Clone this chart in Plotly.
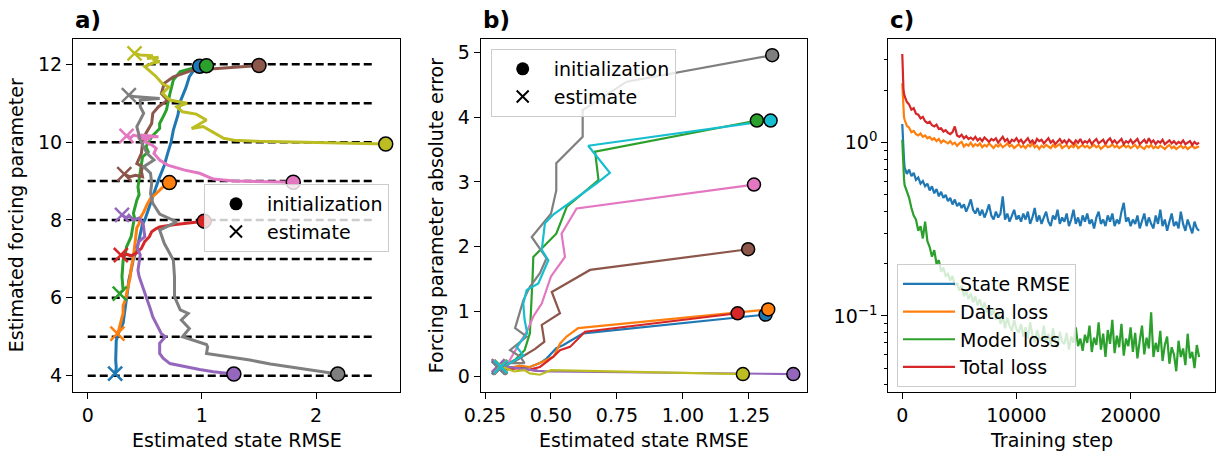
import plotly.graph_objects as go

# ---------------- Panel a data ----------------
F_true = [4, 5, 6, 7, 8, 9, 10, 11, 12]
hline_xmin, hline_xmax = 0, 2.5

a_blue_x = [0.98, 0.93, 0.89, 0.86, 0.81, 0.79, 0.75, 0.73, 0.70, 0.67, 0.62, 0.58, 0.54, 0.50, 0.48, 0.47, 0.45, 0.43, 0.40, 0.38, 0.36, 0.35, 0.34, 0.33, 0.31, 0.27, 0.25, 0.245, 0.25, 0.24]
a_blue_y = [11.95, 11.85, 11.68, 11.40, 11.04, 10.70, 10.31, 10.00, 9.71, 9.40, 9.03, 8.70, 8.34, 8.00, 7.90, 7.74, 7.50, 7.23, 7.00, 6.71, 6.45, 6.20, 5.95, 5.69, 5.35, 5.10, 4.91, 4.40, 4.20, 4.05]

a_orange_x = [0.715, 0.66, 0.60, 0.55, 0.52, 0.49, 0.46, 0.45, 0.43, 0.42, 0.41, 0.40, 0.38, 0.37, 0.35, 0.34, 0.33, 0.31, 0.31, 0.30, 0.29, 0.28, 0.27, 0.26]
a_orange_y = [8.96, 8.85, 8.68, 8.55, 8.40, 8.20, 8.05, 7.90, 7.80, 7.55, 7.31, 7.05, 6.75, 6.50, 6.25, 6.10, 5.95, 5.80, 5.60, 5.50, 5.35, 5.25, 5.15, 5.08]

a_green_x = [1.04, 0.92, 0.81, 0.75, 0.72, 0.69, 0.66, 0.63, 0.63, 0.56, 0.51, 0.53, 0.48, 0.455, 0.44, 0.45, 0.43, 0.40, 0.41, 0.40, 0.38, 0.34, 0.33, 0.31, 0.30, 0.31, 0.29, 0.28]
a_green_y = [11.96, 11.90, 11.81, 11.60, 11.25, 10.83, 10.65, 10.48, 10.35, 10.14, 9.88, 9.75, 9.62, 9.20, 8.85, 8.65, 8.51, 8.17, 8.05, 7.91, 7.57, 7.31, 7.15, 6.97, 6.54, 6.20, 6.12, 6.11]

a_red_x = [1.02, 0.90, 0.75, 0.63, 0.60, 0.56, 0.54, 0.50, 0.48, 0.47, 0.43, 0.40, 0.38, 0.34, 0.31, 0.29]
a_red_y = [7.97, 7.93, 7.88, 7.82, 7.78, 7.70, 7.57, 7.45, 7.35, 7.27, 7.16, 7.12, 7.08, 7.12, 7.08, 7.10]

a_purple_x = [1.28, 1.10, 0.98, 0.86, 0.72, 0.66, 0.63, 0.63, 0.68, 0.645, 0.60, 0.57, 0.55, 0.53, 0.50, 0.47, 0.45, 0.44, 0.455, 0.46, 0.43, 0.45, 0.50, 0.485, 0.45, 0.40, 0.36, 0.34, 0.30]
a_purple_y = [4.04, 4.10, 4.16, 4.23, 4.31, 4.45, 4.57, 4.83, 5.00, 5.08, 5.35, 5.51, 5.70, 5.86, 6.11, 6.37, 6.55, 6.71, 6.97, 7.10, 7.30, 7.45, 7.57, 7.91, 8.05, 8.00, 8.12, 8.05, 8.13]

a_brown_x = [1.50, 1.30, 1.10, 0.92, 0.75, 0.67, 0.645, 0.70, 0.62, 0.57, 0.56, 0.51, 0.48, 0.47, 0.43, 0.48, 0.47, 0.48, 0.42, 0.37, 0.32]
a_brown_y = [11.97, 11.93, 11.88, 11.85, 11.68, 11.51, 11.25, 11.08, 10.91, 10.74, 10.48, 10.23, 9.97, 9.71, 9.45, 9.37, 9.25, 9.11, 9.15, 9.11, 9.18]

a_pink_x = [1.80, 1.55, 1.28, 1.10, 0.98, 0.85, 0.70, 0.63, 0.58, 0.60, 0.56, 0.50, 0.53, 0.62, 0.47, 0.44, 0.55, 0.40, 0.38, 0.34]
a_pink_y = [8.97, 8.99, 9.00, 9.05, 9.20, 9.28, 9.41, 9.54, 9.71, 9.84, 9.93, 10.01, 10.14, 10.14, 10.18, 10.10, 10.08, 10.18, 10.12, 10.16]

a_gray_x = [2.19, 1.86, 1.60, 1.42, 1.20, 1.04, 1.05, 1.04, 0.83, 0.89, 0.82, 0.88, 0.81, 0.76, 0.76, 0.75, 0.67, 0.63, 0.78, 0.63, 0.57, 0.55, 0.56, 0.55, 0.49, 0.58, 0.52, 0.46, 0.43, 0.49, 0.46, 0.46, 0.63, 0.40, 0.36]
a_gray_y = [4.04, 4.18, 4.30, 4.40, 4.50, 4.57, 4.74, 4.80, 5.00, 5.21, 5.43, 5.60, 5.69, 6.03, 6.54, 6.97, 7.40, 7.74, 7.95, 8.15, 8.43, 8.68, 8.94, 9.20, 9.37, 9.54, 9.71, 10.05, 10.40, 10.74, 10.91, 11.08, 11.12, 11.17, 11.21]

a_olive_x = [2.61, 2.20, 1.86, 1.50, 1.28, 1.19, 1.10, 1.01, 0.91, 1.04, 0.95, 0.83, 0.78, 0.87, 0.72, 0.69, 0.655, 0.71, 0.655, 0.60, 0.54, 0.50, 0.56, 0.63, 0.57, 0.62, 0.52, 0.57, 0.46, 0.41]
a_olive_y = [9.95, 9.97, 9.99, 10.02, 10.05, 10.10, 10.25, 10.40, 10.35, 10.57, 10.72, 10.78, 10.91, 11.00, 11.08, 11.15, 11.25, 11.42, 11.50, 11.68, 11.85, 11.94, 12.02, 12.07, 12.12, 12.18, 12.15, 12.22, 12.24, 12.28]

# ---------------- Panel b data ----------------
b_blue_x = [1.313, 0.622, 0.547, 0.52, 0.483, 0.458, 0.42, 0.38, 0.34, 0.30]
b_blue_y = [0.95, 0.66, 0.48, 0.43, 0.27, 0.20, 0.14, 0.12, 0.14, 0.13]

b_orange_x = [1.323, 0.603, 0.559, 0.534, 0.51, 0.458, 0.42, 0.38, 0.34, 0.31]
b_orange_y = [1.03, 0.74, 0.61, 0.50, 0.30, 0.20, 0.14, 0.16, 0.12, 0.14]

b_green_x = [1.28, 0.667, 0.68, 0.62, 0.56, 0.52, 0.47, 0.433, 0.43, 0.427, 0.42, 0.40, 0.364, 0.33, 0.305]
b_green_y = [3.95, 3.47, 3.03, 2.82, 2.62, 2.20, 2.00, 1.84, 1.50, 1.17, 0.66, 0.40, 0.25, 0.18, 0.14]

b_red_x = [1.207, 0.629, 0.572, 0.534, 0.509, 0.483, 0.458, 0.42, 0.45, 0.38, 0.33, 0.31]
b_red_y = [0.97, 0.685, 0.45, 0.40, 0.30, 0.22, 0.14, 0.10, 0.08, 0.12, 0.10, 0.13]

b_purple_x = [1.418, 0.80, 0.496, 0.45, 0.41, 0.37, 0.33, 0.30]
b_purple_y = [0.03, 0.05, 0.07, 0.08, 0.10, 0.12, 0.14, 0.16]

b_brown_x = [1.247, 0.648, 0.503, 0.534, 0.465, 0.475, 0.44, 0.395, 0.36, 0.33, 0.31]
b_brown_y = [1.96, 1.64, 1.30, 0.97, 0.79, 0.53, 0.42, 0.30, 0.22, 0.18, 0.15]

b_pink_x = [1.269, 0.597, 0.54, 0.553, 0.50, 0.48, 0.465, 0.433, 0.41, 0.38, 0.36, 0.34, 0.31]
b_pink_y = [2.96, 2.59, 2.20, 1.84, 1.54, 1.30, 1.12, 0.92, 0.70, 0.50, 0.35, 0.22, 0.14]

b_gray_x = [1.338, 0.787, 0.62, 0.62, 0.52, 0.52, 0.50, 0.427, 0.483, 0.458, 0.42, 0.395, 0.364, 0.408, 0.345, 0.383, 0.40, 0.345, 0.32, 0.305]
b_gray_y = [4.96, 4.55, 4.11, 3.70, 3.29, 2.87, 2.51, 2.15, 1.82, 1.59, 1.38, 1.17, 0.74, 0.61, 0.40, 0.30, 0.20, 0.20, 0.12, 0.12]

b_olive_x = [1.227, 0.60, 0.50, 0.458, 0.42, 0.40, 0.36, 0.33, 0.31]
b_olive_y = [0.03, 0.08, 0.09, 0.02, 0.04, 0.09, 0.07, 0.12, 0.15]

b_cyan_x = [1.332, 0.641, 0.723, 0.673, 0.585, 0.51, 0.477, 0.465, 0.49, 0.452, 0.408, 0.395, 0.40, 0.41, 0.37, 0.395, 0.345, 0.31]
b_cyan_y = [3.95, 3.56, 3.14, 2.98, 2.72, 2.50, 2.36, 1.95, 1.79, 1.43, 1.33, 1.12, 0.87, 0.66, 0.45, 0.32, 0.20, 0.14]

# ---------------- Panel c data ----------------
steps = [0, 50, 100, 150] + list(range(200, 26001, 200))

total_loss = [3.25, 2.35, 2.05, 1.92,
    1.86, 1.72, 1.66, 1.55, 1.58, 1.47, 1.45, 1.38, 1.41, 1.33,
    1.30, 1.32, 1.26, 1.24, 1.27, 1.20, 1.21, 1.16, 1.18, 1.14,
    1.12, 1.15, 1.24, 1.10, 1.08, 1.11, 1.06, 1.09, 1.05, 1.07,
    1.04, 1.08, 1.03, 1.06, 1.02, 1.07, 1.04, 1.01, 1.05, 1.03,
    1.06, 1.00, 1.04, 1.08, 1.02, 1.05, 0.99, 1.04, 1.02, 1.06,
    1.01, 1.04, 0.99, 1.03, 1.06, 1.00, 1.03, 0.98, 1.05, 1.02,
    1.04, 0.99, 1.02, 1.06, 1.00, 1.03, 0.98, 1.02, 1.05, 1.00,
    1.03, 0.99, 1.04, 1.01, 0.98, 1.03, 1.00, 1.05, 0.99, 1.02,
    1.00, 1.04, 0.98, 1.02, 1.05, 0.99, 1.01, 1.04, 0.98, 1.03,
    1.06, 1.00, 1.03, 0.99, 1.02, 1.05, 0.98, 1.02, 1.00, 1.04,
    0.99, 1.02, 1.05, 0.98, 1.01, 1.04, 0.99, 1.06, 1.00, 1.03,
    0.98, 1.02, 1.00, 1.04, 0.98, 1.01, 1.03, 0.99, 1.02, 0.98,
    1.01, 0.99, 1.03, 0.98, 1.00, 1.02, 0.97, 1.01, 0.98, 1.00]

data_loss = [2.20, 1.70, 1.50, 1.40,
    1.36, 1.25, 1.22, 1.15, 1.17, 1.12, 1.10, 1.13, 1.08, 1.10,
    1.06, 1.08, 1.04, 1.06, 1.02, 1.05, 1.00, 1.03, 1.01, 0.99,
    1.02, 0.98, 1.00, 0.96, 0.99, 1.01, 0.95, 0.98, 0.96, 1.00,
    0.95, 0.98, 0.96, 0.99, 0.94, 0.97, 0.95, 0.99, 0.96, 0.93,
    0.97, 0.95, 0.98, 0.94, 0.96, 0.99, 0.95, 0.97, 0.93, 0.96,
    0.98, 0.94, 0.96, 0.93, 0.97, 0.95, 0.99, 0.94, 0.96, 0.92,
    0.96, 0.94, 0.97, 0.95, 0.93, 0.97, 0.94, 0.96, 0.98, 0.93,
    0.95, 0.97, 0.93, 0.96, 0.94, 0.98, 0.93, 0.95, 0.97, 0.94,
    0.96, 0.93, 0.95, 0.97, 0.94, 0.96, 0.92, 0.95, 0.97, 0.94,
    0.95, 0.98, 0.94, 0.96, 0.93, 0.95, 0.97, 0.94, 0.96, 0.93,
    0.95, 0.97, 0.93, 0.96, 0.94, 0.92, 0.96, 0.94, 0.97, 0.93,
    0.95, 0.93, 0.96, 0.94, 0.92, 0.95, 0.97, 0.93, 0.95, 0.92,
    0.94, 0.96, 0.93, 0.95, 0.92, 0.94, 0.96, 0.93, 0.94, 0.95]

state_rmse = [1.28, 1.00, 0.86, 0.80,
    0.72, 0.66, 0.70, 0.64, 0.67, 0.61, 0.63, 0.58, 0.60, 0.56,
    0.58, 0.53, 0.56, 0.51, 0.54, 0.49, 0.52, 0.48, 0.50, 0.46,
    0.48, 0.44, 0.47, 0.43, 0.45, 0.42, 0.44, 0.40, 0.43, 0.47,
    0.41, 0.39, 0.42, 0.38, 0.41, 0.37, 0.40, 0.44, 0.38, 0.36,
    0.40, 0.37, 0.39, 0.49, 0.36, 0.39, 0.35, 0.38, 0.41, 0.36,
    0.38, 0.35, 0.39, 0.36, 0.40, 0.34, 0.37, 0.42, 0.35, 0.38,
    0.34, 0.37, 0.40, 0.35, 0.33, 0.38, 0.36, 0.41, 0.34, 0.37,
    0.35, 0.39, 0.33, 0.36, 0.41, 0.34, 0.37, 0.33, 0.38, 0.35,
    0.39, 0.34, 0.36, 0.32, 0.37, 0.40, 0.34, 0.36, 0.33, 0.38,
    0.35, 0.39, 0.33, 0.36, 0.34, 0.40, 0.45, 0.35, 0.37, 0.33,
    0.36, 0.34, 0.38, 0.32, 0.36, 0.39, 0.33, 0.37, 0.34, 0.32,
    0.38, 0.34, 0.41, 0.33, 0.36, 0.31, 0.35, 0.39, 0.33, 0.35,
    0.32, 0.40, 0.34, 0.31, 0.36, 0.33, 0.30, 0.35, 0.32, 0.31]

model_loss = [1.04, 0.80, 0.68, 0.62,
    0.57, 0.52, 0.48, 0.42, 0.38, 0.36, 0.31, 0.33, 0.28, 0.35,
    0.27, 0.25, 0.22, 0.24, 0.20, 0.21, 0.18, 0.19, 0.17, 0.175,
    0.16, 0.17, 0.15, 0.155, 0.14, 0.15, 0.13, 0.14, 0.125, 0.135,
    0.12, 0.13, 0.115, 0.125, 0.11, 0.12, 0.105, 0.115, 0.10, 0.11,
    0.095, 0.105, 0.09, 0.10, 0.085, 0.098, 0.088, 0.082, 0.095, 0.084,
    0.080, 0.090, 0.076, 0.086, 0.074, 0.092, 0.078, 0.070, 0.083, 0.075,
    0.072, 0.088, 0.070, 0.079, 0.068, 0.085, 0.073, 0.066, 0.081, 0.071,
    0.069, 0.080, 0.064, 0.076, 0.070, 0.086, 0.067, 0.074, 0.063, 0.078,
    0.070, 0.088, 0.062, 0.075, 0.068, 0.092, 0.064, 0.079, 0.058, 0.083,
    0.069, 0.095, 0.061, 0.077, 0.066, 0.090, 0.059, 0.074, 0.067, 0.086,
    0.062, 0.080, 0.057, 0.072, 0.088, 0.060, 0.075, 0.065, 0.105, 0.058,
    0.070, 0.062, 0.082, 0.055, 0.068, 0.076, 0.053, 0.066, 0.060, 0.048,
    0.072, 0.058, 0.065, 0.052, 0.079, 0.057, 0.062, 0.050, 0.068, 0.058]

C = {"blue": "#1f77b4", "orange": "#ff7f0e", "green": "#2ca02c", "red": "#d62728",
     "purple": "#9467bd", "brown": "#8c564b", "pink": "#e377c2", "gray": "#7f7f7f",
     "olive": "#bcbd22", "cyan": "#17becf"}

a_traj = [("blue", a_blue_x, a_blue_y), ("orange", a_orange_x, a_orange_y),
          ("green", a_green_x, a_green_y), ("red", a_red_x, a_red_y),
          ("purple", a_purple_x, a_purple_y), ("brown", a_brown_x, a_brown_y),
          ("pink", a_pink_x, a_pink_y), ("gray", a_gray_x, a_gray_y),
          ("olive", a_olive_x, a_olive_y)]
b_traj = [("blue", b_blue_x, b_blue_y), ("orange", b_orange_x, b_orange_y),
          ("green", b_green_x, b_green_y), ("red", b_red_x, b_red_y),
          ("purple", b_purple_x, b_purple_y), ("brown", b_brown_x, b_brown_y),
          ("pink", b_pink_x, b_pink_y), ("gray", b_gray_x, b_gray_y),
          ("olive", b_olive_x, b_olive_y), ("cyan", b_cyan_x, b_cyan_y)]

fig = go.Figure()

def add_traj(traj, xa, ya, lw, msize):
    for cname, xs, ys in traj:
        fig.add_trace(go.Scatter(x=xs, y=ys, mode="lines", line=dict(color=C[cname], width=lw),
                                 xaxis=xa, yaxis=ya, showlegend=False, hoverinfo="skip"))
    for cname, xs, ys in traj:
        fig.add_trace(go.Scatter(x=[xs[0]], y=[ys[0]], mode="markers",
                                 marker=dict(symbol="circle", size=msize, color=C[cname],
                                             line=dict(color="black", width=1.5)),
                                 xaxis=xa, yaxis=ya, showlegend=False))
        fig.add_trace(go.Scatter(x=[xs[-1]], y=[ys[-1]], mode="markers",
                                 marker=dict(symbol="x-thin", size=msize, color=C[cname],
                                             line=dict(color=C[cname], width=2.5)),
                                 xaxis=xa, yaxis=ya, showlegend=False))

add_traj(a_traj, "x", "y", 3, 14)
add_traj(b_traj, "x2", "y2", 2.2, 13)

# legend dummies for a and b
for lg, xa, ya in [("legend", "x", "y"), ("legend2", "x2", "y2")]:
    fig.add_trace(go.Scatter(x=[None], y=[None], mode="markers", name="initialization",
                             marker=dict(symbol="circle", size=13, color="black"),
                             xaxis=xa, yaxis=ya, legend=lg, showlegend=True))
    fig.add_trace(go.Scatter(x=[None], y=[None], mode="markers", name="estimate",
                             marker=dict(symbol="x-thin", size=12, color="black",
                                         line=dict(color="black", width=2)),
                             xaxis=xa, yaxis=ya, legend=lg, showlegend=True))

# panel c
for name, vals, cname in [("State RMSE", state_rmse, "blue"), ("Data loss", data_loss, "orange"),
                          ("Model loss", model_loss, "green"), ("Total loss", total_loss, "red")]:
    fig.add_trace(go.Scatter(x=steps, y=vals, mode="lines", name=name,
                             line=dict(color=C[cname], width=2.2),
                             xaxis="x3", yaxis="y3", legend="legend3", showlegend=True))

# dashed true-value lines
shapes = []
for v in F_true:
    shapes.append(dict(type="line", xref="x", yref="y", x0=hline_xmin, x1=hline_xmax, y0=v, y1=v,
                       line=dict(color="black", width=2.5, dash="8px,4px"), layer="below"))

W, H = 1216, 451
ydom = [(H - 392) / H, (H - 39) / H]
ax = dict(showline=True, linecolor="black", linewidth=1.2, mirror=True, ticks="outside",
          ticklen=6, tickwidth=1.2, tickcolor="black", showgrid=False, zeroline=False,
          automargin=False, tickfont=dict(size=19, color="black"))

lgd = dict(bgcolor="rgba(255,255,255,0.8)", bordercolor="#cccccc", borderwidth=1,
           font=dict(size=19, color="black"), xanchor="left", yanchor="top", itemwidth=52)

fig.update_layout(
    width=W, height=H, margin=dict(l=0, r=0, t=0, b=0, autoexpand=False),
    paper_bgcolor="white", plot_bgcolor="white",
    font=dict(family="DejaVu Sans", size=19, color="black"),
    shapes=shapes,
    xaxis=dict(ax, domain=[73 / W, 400 / W], range=[-0.129, 2.735], tickvals=[0, 1, 2], anchor="y"),
    yaxis=dict(ax, domain=ydom, range=[3.58, 12.65], tickvals=[4, 6, 8, 10, 12], anchor="x"),
    xaxis2=dict(ax, domain=[480.7 / W, 807.3 / W], range=[0.2337, 1.471],
                tickvals=[0.25, 0.5, 0.75, 1.0, 1.25], ticktext=["0.25", "0.50", "0.75", "1.00", "1.25"], anchor="y2"),
    yaxis2=dict(ax, domain=ydom, range=[-0.247, 5.21], tickvals=[0, 1, 2, 3, 4, 5], anchor="x2"),
    xaxis3=dict(ax, domain=[888.3 / W, 1214.5 / W], range=[-1225, 27350], tickvals=[0, 10000, 20000],
                ticktext=["0", "10000", "20000"], anchor="y3"),
    yaxis3=dict(ax, domain=ydom, type="log", range=[-1.4386, 0.598], tickvals=[0.1, 1],
                ticktext=["10<sup>−1</sup>", "10<sup>0</sup>"], anchor="x3",
                minor=dict(tickmode="array", tickvals=[0.04, 0.05, 0.06, 0.07, 0.08, 0.09, 0.2, 0.3, 0.4, 0.5, 0.6, 0.7, 0.8, 0.9, 2, 3],
                           ticks="outside", ticklen=3.5, tickwidth=1, tickcolor="black")),
    legend=dict(lgd, x=204 / W, y=(H - 184) / H),
    legend2=dict(lgd, x=490.7 / W, y=(H - 49) / H),
    legend3=dict(lgd, x=897 / W, y=(H - 264) / H),
)

ann = []
for xr, t in [("x domain", "a)"), ("x2 domain", "b)"), ("x3 domain", "c)")]:
    ann.append(dict(text="<b>%s</b>" % t, xref=xr, yref="paper", x=0, y=(H - 20) / H,
                    xanchor="left", yanchor="middle", showarrow=False, font=dict(size=23)))
for xr, t in [("x domain", "Estimated state RMSE"), ("x2 domain", "Estimated state RMSE"), ("x3 domain", "Training step")]:
    ann.append(dict(text=t, xref=xr, yref="paper", x=0.5, y=(H - 440) / H,
                    xanchor="center", yanchor="middle", showarrow=False, font=dict(size=19)))
ann.append(dict(text="Estimated forcing parameter", xref="paper", yref="y domain", x=16.7 / W, y=0.5,
                textangle=-90, xanchor="center", yanchor="middle", showarrow=False, font=dict(size=19)))
ann.append(dict(text="Forcing parameter absolute error", xref="paper", yref="y2 domain", x=436.7 / W, y=0.5,
                textangle=-90, xanchor="center", yanchor="middle", showarrow=False, font=dict(size=19)))
fig.update_layout(annotations=ann)

fig.write_html("out.html")
